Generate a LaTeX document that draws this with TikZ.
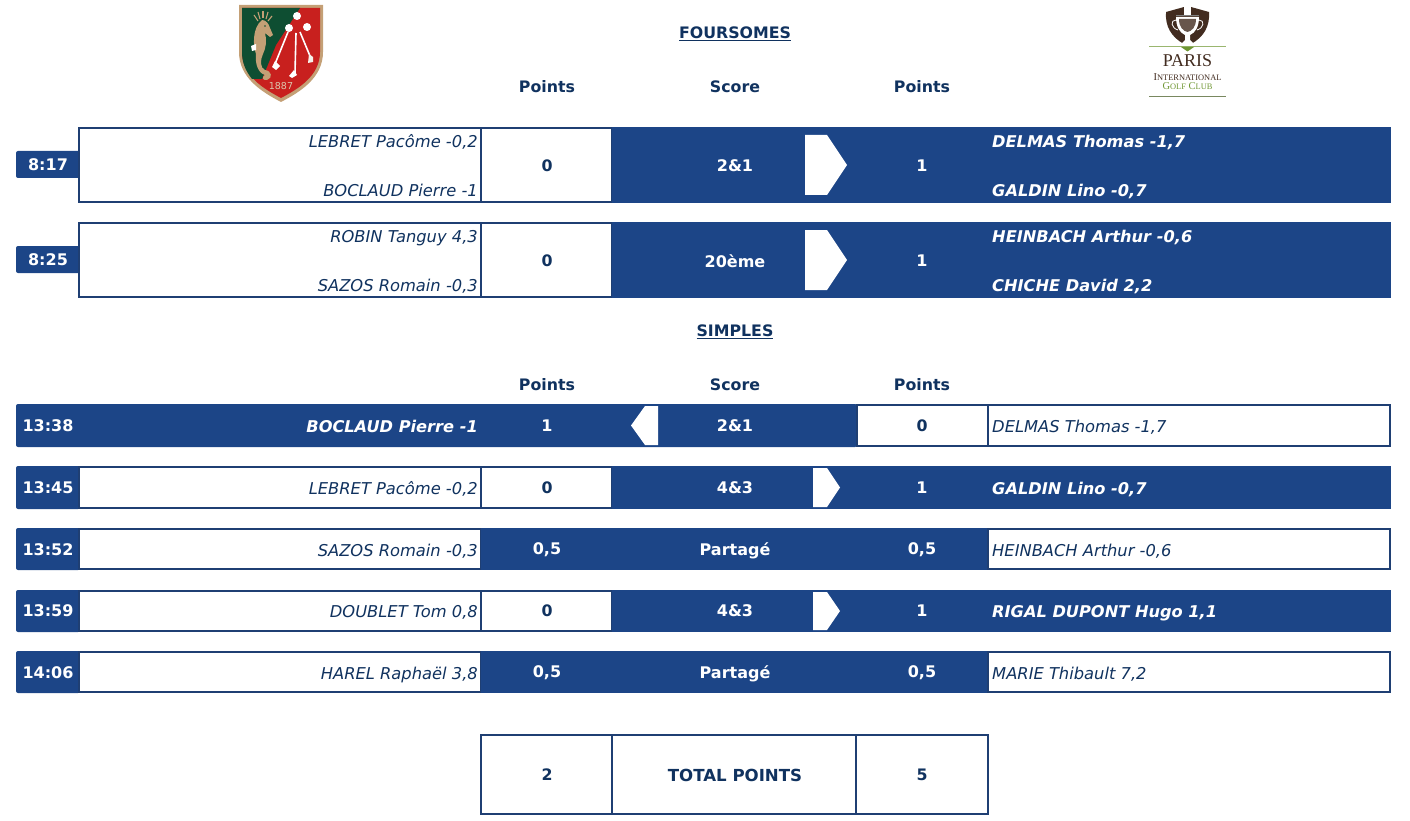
\documentclass[tikz,border=0pt]{standalone}
\usepackage{fontspec}
\setmainfont{DejaVu Sans}
\newfontfamily\logoserif{Liberation Serif}
\definecolor{teamblue}{RGB}{28, 69, 135}
\definecolor{inkblue}{RGB}{16, 50, 95}
\definecolor{lineblue}{RGB}{31, 63, 115}
\definecolor{shieldgreen}{RGB}{14, 78, 50}
\definecolor{shieldred}{RGB}{200, 32, 30}
\definecolor{shieldtan}{RGB}{196, 160, 118}
\definecolor{cupbrown}{RGB}{66, 44, 32}
\definecolor{clubgreen}{RGB}{110, 150, 50}
\tikzset{
  x=1pt, y=-1pt,
  band/.style={fill=teamblue},
  cell/.style={draw=lineblue, line width=2pt, fill=white},
  winmark/.style={fill=white},
  heading/.style={font=\fontsize{15.8}{18}\selectfont\bfseries, text=inkblue, inner sep=0pt},
  title/.style={heading},
  tabtext/.style={font=\fontsize{16}{18}\selectfont\bfseries, text=white, inner sep=0pt},
  numdark/.style={heading},
  numlight/.style={tabtext},
  leftname/.style={font=\fontsize{16.3}{18}\selectfont\itshape, text=inkblue, inner sep=0pt, anchor=base east},
  rightname/.style={font=\fontsize{16.3}{18}\selectfont\itshape, text=inkblue, inner sep=0pt, anchor=base west},
  wonleft/.style={leftname, font=\fontsize{16.2}{18}\selectfont\bfseries\itshape, text=white},
  wonright/.style={rightname, font=\fontsize{16.2}{18}\selectfont\bfseries\itshape, text=white},
}
\begin{document}
\begin{tikzpicture}
  \useasboundingbox (0,0) rectangle (1410,821);

  % Left crest
  \fill[shieldtan] (239,5) -- (323,5) -- (323,52) .. controls (323,78) and (300,92) .. (281,102)
    .. controls (262,92) and (239,78) .. (239,52) -- cycle;
  \fill[shieldred] (242,8) -- (320,8) -- (320,52) .. controls (320,76) and (298,89) .. (281,98)
    .. controls (264,89) and (242,76) .. (242,52) -- cycle;
  \fill[shieldgreen] (242,8) -- (300,8) -- (276,45) -- (262,79) -- (252,79)
    .. controls (245,70) and (242,62) .. (242,52) -- cycle;
  % seahorse
  \fill[shieldtan] (262,20) .. controls (266,20) and (269,24) .. (270,28) -- (273,35) -- (270,37) -- (265,33)
    .. controls (267,40) and (266,48) .. (263,54) .. controls (260,60) and (260,68) .. (265,70)
    .. controls (272,71) and (273,78) .. (267,80) .. controls (263,81) and (261,77) .. (265,75)
    .. controls (258,73) and (255,64) .. (256,54) .. controls (253,46) and (252,28) .. (262,20) -- cycle;
  \fill[white] (251,46) -- (256,44) -- (256,50) -- (252,51) -- cycle;
  \fill[shieldgreen] (265,26) circle (0.9);
  \foreach \sx/\sy/\ex/\ey in {254/15/258/21, 258/12/260/19, 263/11/263/18, 268/12/266/19, 272/16/268/21}
    \draw[shieldtan, line width=1.1pt] (\sx,\sy) -- (\ex,\ey);
  % clubs
  \draw[white, line width=1.6pt] (288,32) -- (275,64);
  \draw[white, line width=1.6pt] (296,33) -- (295,73);
  \draw[white, line width=1.6pt] (300,32) -- (310,56);
  \fill[white] (275,61) -- (280,66) -- (276,70) -- (272,67) -- cycle;
  \fill[white] (294,70) -- (297,75) -- (292,78) -- (289,76) -- cycle;
  \fill[white!85!shieldtan] (309,54) -- (313,57) -- (313,62) -- (308,63) -- cycle;
  \fill[white] (297,16) circle (4);
  \fill[white] (289,28) circle (4);
  \fill[white] (307,27) circle (4);
  \node[font=\fontsize{9.5}{9}\selectfont, text=shieldtan!60!white, inner sep=0pt] (crestyear) at (281,86) {1887};

  % Right crest
  \fill[cupbrown] (1184,7) -- (1166,12) .. controls (1165,26) and (1171,37) .. (1184,44)
    -- (1191,44) .. controls (1204,37) and (1210,26) .. (1209,12) -- (1191,7) -- cycle;
  \fill[white] (1184,6) rectangle (1191,15);
  \draw[gray, line width=1pt] (1176,16) -- (1199,16);
  \fill[white] (1176,17) -- (1199,17) .. controls (1199,27) and (1195,33) .. (1190,35)
    -- (1190,40) -- (1194,44) -- (1181,44) -- (1185,40) -- (1185,35)
    .. controls (1180,33) and (1176,27) .. (1176,17) -- cycle;
  \fill[cupbrown!80] (1179,19) -- (1196,19) .. controls (1196,27) and (1192,31) .. (1187.5,32)
    .. controls (1183,31) and (1179,27) .. (1179,19) -- cycle;
  \draw[white, line width=0.8pt] (1176,20) .. controls (1170,20) and (1171,28) .. (1178,30);
  \draw[white, line width=0.8pt] (1199,20) .. controls (1205,20) and (1204,28) .. (1197,30);
  \draw[clubgreen!70, line width=0.8pt] (1149,46) -- (1226,46);
  \draw[clubgreen!40!gray, line width=0.8pt] (1149,96) -- (1226,96);
  \fill[clubgreen] (1181,47) -- (1194,47) -- (1187.5,51.5) -- cycle;
  \node[font=\logoserif\fontsize{18}{18}\selectfont, text=cupbrown, inner sep=0pt] (clubparis) at (1187.5,61) {PARIS};
  \node[font=\logoserif\fontsize{10.5}{10}\selectfont, text=cupbrown, inner sep=0pt] (clubintl) at (1187.5,77)
    {I{\fontsize{8.4}{10}\selectfont NTERNATIONAL}};
  \node[font=\logoserif\fontsize{10.5}{10}\selectfont, text=clubgreen, inner sep=0pt] (clubgolf) at (1187.5,86)
    {G{\fontsize{8.4}{10}\selectfont OLF} C{\fontsize{8.4}{10}\selectfont LUB}};

  % Foursomes heading
  \node[title] (foursomes) at (735,34) {\underline{FOURSOMES}};
  \node[heading] (fpointsl) at (547,87) {Points};
  \node[heading] (fscore) at (735,87) {Score};
  \node[heading] (fpointsr) at (922,87) {Points};

  % Foursome 1
  \fill[band, rounded corners=2pt] (80,151) -- (16,151) -- (16,178) -- (80,178) -- cycle;
  \draw[cell] (79,128) rectangle (481,202);
  \draw[cell] (481,128) rectangle (612,202);
  \fill[band] (612,127) rectangle (1391,203);
  \fill[winmark] (805,135) -- (827,135) -- (847,165) -- (827,195) -- (805,195) -- cycle;
  \node[tabtext] (foura) at (48,165) {8:17};
  \node[leftname] (fouraone) at (478,147.5) {LEBRET Pacôme -0,2};
  \node[leftname] (fouratwo) at (478,196.5) {BOCLAUD Pierre -1};
  \node[numdark] (fourapl) at (547,166) {0};
  \node[numlight] (fourasc) at (735,166) {2\&1};
  \node[numlight] (fourapr) at (922,166) {1};
  \node[wonright] (fouraoner) at (992,147.5) {DELMAS Thomas -1,7};
  \node[wonright] (fouratwor) at (992,196.5) {GALDIN Lino -0,7};

  % Foursome 2
  \fill[band, rounded corners=2pt] (80,246) -- (16,246) -- (16,273) -- (80,273) -- cycle;
  \draw[cell] (79,223) rectangle (481,297);
  \draw[cell] (481,223) rectangle (612,297);
  \fill[band] (612,222) rectangle (1391,298);
  \fill[winmark] (805,230) -- (827,230) -- (847,260) -- (827,290) -- (805,290) -- cycle;
  \node[tabtext] (fourb) at (48,260) {8:25};
  \node[leftname] (fourbone) at (478,242.5) {ROBIN Tanguy 4,3};
  \node[leftname] (fourbtwo) at (478,291.5) {SAZOS Romain -0,3};
  \node[numdark] (fourbpl) at (547,261) {0};
  \node[numlight] (fourbsc) at (735,261) {20ème};
  \node[numlight] (fourbpr) at (922,261) {1};
  \node[wonright] (fourboner) at (992,242.5) {HEINBACH Arthur -0,6};
  \node[wonright] (fourbtwor) at (992,291.5) {CHICHE David 2,2};

  % Simples heading
  \node[title] (simples) at (735,332) {\underline{SIMPLES}};
  \node[heading] (spointsl) at (547,385) {Points};
  \node[heading] (sscore) at (735,385) {Score};
  \node[heading] (spointsr) at (922,385) {Points};

  % Simple 1
  \fill[band, rounded corners=2pt] (857,404) -- (16,404) -- (16,447) -- (857,447) -- cycle;
  \draw[cell] (857,405) rectangle (988,446);
  \draw[cell] (988,405) rectangle (1390,446);
  \fill[winmark] (658,406) -- (645,406) -- (631,425.5) -- (645,445) -- (658,445) -- cycle;
  \node[tabtext] (simplea) at (48,426) {13:38};
  \node[wonleft] (simpleal) at (478,432) {BOCLAUD Pierre -1};
  \node[numlight] (simpleapl) at (547,426) {1};
  \node[numlight] (simpleasc) at (735,426) {2\&1};
  \node[numdark] (simpleapr) at (922,426) {0};
  \node[rightname] (simplear) at (992,432) {DELMAS Thomas -1,7};

  % Simple 2
  \fill[band, rounded corners=2pt] (80,466) -- (16,466) -- (16,509) -- (80,509) -- cycle;
  \draw[cell] (79,467) rectangle (481,508);
  \draw[cell] (481,467) rectangle (612,508);
  \fill[band] (612,466) rectangle (1391,509);
  \fill[winmark] (813,468) -- (827,468) -- (840,487.5) -- (827,507) -- (813,507) -- cycle;
  \node[tabtext] (simpleb) at (48,488) {13:45};
  \node[leftname] (simplebl) at (478,494) {LEBRET Pacôme -0,2};
  \node[numdark] (simplebpl) at (547,488) {0};
  \node[numlight] (simplebsc) at (735,488) {4\&3};
  \node[numlight] (simplebpr) at (922,488) {1};
  \node[wonright] (simplebr) at (992,494) {GALDIN Lino -0,7};

  % Simple 3
  \fill[band, rounded corners=2pt] (80,528) -- (16,528) -- (16,570) -- (80,570) -- cycle;
  \draw[cell] (79,529) rectangle (481,569);
  \fill[band] (481,528) rectangle (988,570);
  \draw[cell] (988,529) rectangle (1390,569);
  \node[tabtext] (simplec) at (48,550) {13:52};
  \node[leftname] (simplecl) at (478,556) {SAZOS Romain -0,3};
  \node[numlight] (simplecpl) at (547,550) {0,5};
  \node[numlight] (simplecsc) at (735,551) {Partagé};
  \node[numlight] (simplecpr) at (922,550) {0,5};
  \node[rightname] (simplecr) at (992,556) {HEINBACH Arthur -0,6};

  % Simple 4
  \fill[band, rounded corners=2pt] (80,590) -- (16,590) -- (16,632) -- (80,632) -- cycle;
  \draw[cell] (79,591) rectangle (481,631);
  \draw[cell] (481,591) rectangle (612,631);
  \fill[band] (612,590) rectangle (1391,632);
  \fill[winmark] (813,592) -- (827,592) -- (840,611) -- (827,630) -- (813,630) -- cycle;
  \node[tabtext] (simpled) at (48,611) {13:59};
  \node[leftname] (simpledl) at (478,617) {DOUBLET Tom 0,8};
  \node[numdark] (simpledpl) at (547,611) {0};
  \node[numlight] (simpledsc) at (735,611) {4\&3};
  \node[numlight] (simpledpr) at (922,611) {1};
  \node[wonright] (simpledr) at (992,617) {RIGAL DUPONT Hugo 1,1};

  % Simple 5
  \fill[band, rounded corners=2pt] (80,651) -- (16,651) -- (16,693) -- (80,693) -- cycle;
  \draw[cell] (79,652) rectangle (481,692);
  \fill[band] (481,651) rectangle (988,693);
  \draw[cell] (988,652) rectangle (1390,692);
  \node[tabtext] (simplee) at (48,673) {14:06};
  \node[leftname] (simpleel) at (478,679) {HAREL Raphaël 3,8};
  \node[numlight] (simpleepl) at (547,673) {0,5};
  \node[numlight] (simpleesc) at (735,674) {Partagé};
  \node[numlight] (simpleepr) at (922,673) {0,5};
  \node[rightname] (simpleer) at (992,679) {MARIE Thibault 7,2};

  % Total
  \draw[cell] (481,735) rectangle (612,814);
  \draw[cell] (612,735) rectangle (856,814);
  \draw[cell] (856,735) rectangle (988,814);
  \node[numdark] (totall) at (547,775) {2};
  \node[numdark, font=\fontsize{16.6}{18}\selectfont\bfseries] (totalt) at (735,775) {TOTAL POINTS};
  \node[numdark] (totalr) at (922,775) {5};
\end{tikzpicture}
\end{document}
